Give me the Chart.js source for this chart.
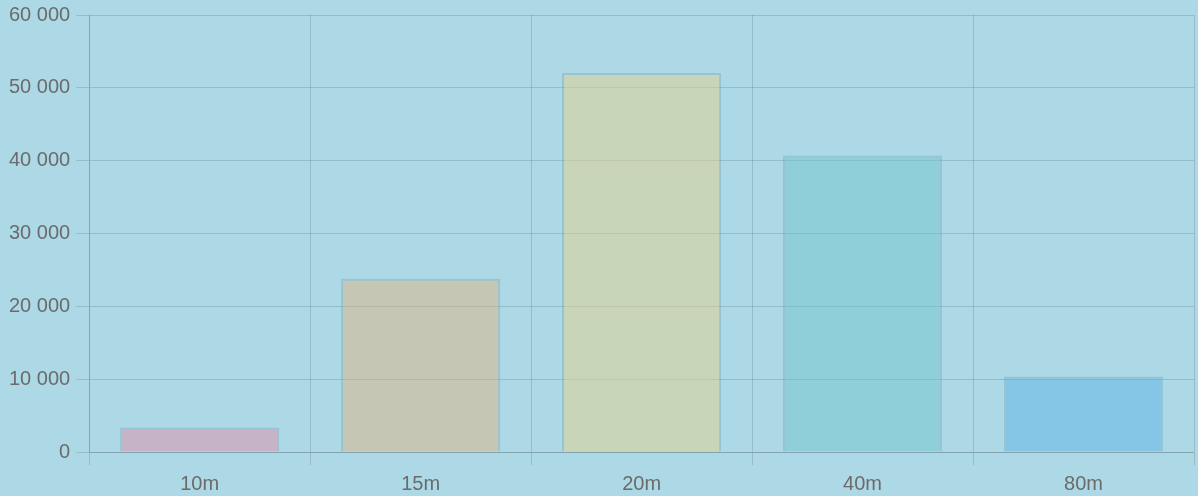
<!DOCTYPE html>
<html>
<head>
<meta charset="utf-8">
<script src="https://cdn.jsdelivr.net/npm/chart.js@4"></script>
<style>
    html, body { margin: 0; padding: 0; background: #add8e6; overflow: hidden; }
    #wrap { width: 1198px; height: 500px; margin-top: -3px; }
</style>
</head>
<body>
<div id="wrap"><canvas id="bandChart"></canvas></div>
<script>
// Data
const bands = ['10m', '15m', '20m', '40m', '80m'];
const counts = [3350, 23800, 52050, 40700, 10350];
const fills = [
    'rgba(223, 142, 170, 0.5)',
    'rgba(221, 180, 128, 0.5)',
    'rgba(227, 210, 138, 0.5)',
    'rgba(111, 198, 204, 0.5)',
    'rgba(93, 178, 230, 0.5)'
];
const borders = [
    'rgba(100, 150, 170, 0.3)',
    'rgba(100, 150, 170, 0.3)',
    'rgba(100, 150, 170, 0.3)',
    'rgba(100, 150, 170, 0.3)',
    'rgba(100, 150, 170, 0.3)'
];

Chart.defaults.font.family = '"Liberation Sans", Arial, sans-serif';
Chart.defaults.font.size = 20;
Chart.defaults.color = '#6b6b6b';

function spaced(v) {
    return String(v).replace(/\B(?=(\d{3})+(?!\d))/g, ' ');
}

const gridColor = 'rgba(0, 0, 0, 0.13)';

new Chart(document.getElementById('bandChart'), {
    type: 'bar',
    data: {
        labels: bands,
        datasets: [{
            data: counts,
            backgroundColor: fills,
            borderColor: borders,
            borderWidth: 2
        }]
    },
    options: {
        responsive: true,
        maintainAspectRatio: false,
        animation: false,
        layout: { padding: { top: 2, right: 4, left: 3, bottom: -6 } },
        plugins: {
            legend: { display: false },
            tooltip: { enabled: false }
        },
        scales: {
            x: {
                grid: { color: gridColor, tickLength: 13, offset: true },
                border: { color: gridColor },
                ticks: { padding: 7 }
            },
            y: {
                min: 0,
                max: 60000,
                grid: { color: gridColor, tickLength: 13 },
                border: { color: gridColor },
                ticks: {
                    stepSize: 10000,
                    padding: 6,
                    callback: v => spaced(v)
                }
            }
        }
    }
});
</script>
</body>
</html>
